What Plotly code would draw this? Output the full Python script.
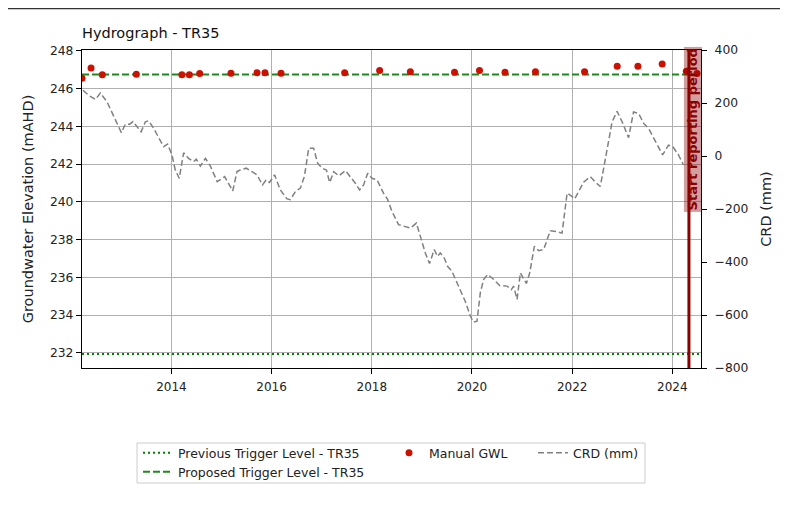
import plotly.graph_objects as go

chart_title = "Hydrograph - TR35"

manual_dates = [
    "2012-03-20", "2012-05-25", "2012-08-15", "2013-04-20", "2014-03-18",
    "2014-05-12", "2014-07-26", "2015-03-11", "2015-09-17", "2015-11-14",
    "2016-03-10", "2017-06-17", "2018-02-27", "2018-10-09", "2019-08-27",
    "2020-02-25", "2020-08-29", "2021-04-08", "2022-04-01", "2022-11-25",
    "2023-04-25", "2023-10-19", "2024-04-12", "2024-06-29",
]
manual_gwl = [
    246.55, 247.10, 246.74, 246.76, 246.74,
    246.74, 246.80, 246.82, 246.85, 246.85,
    246.82, 246.85, 246.96, 246.90, 246.87,
    246.96, 246.87, 246.90, 246.90, 247.19,
    247.19, 247.31, 246.92, 246.80,
]

crd_dates = [
    "2012-03-27", "2012-05-08", "2012-06-26", "2012-08-01", "2012-09-19", "2012-11-06",
    "2013-01-01", "2013-01-30", "2013-03-03", "2013-03-27", "2013-04-26", "2013-05-25",
    "2013-06-25", "2013-07-19", "2013-08-25", "2013-10-12", "2013-11-05", "2013-12-04",
    "2014-01-05", "2014-01-29", "2014-02-27", "2014-03-31", "2014-05-06", "2014-06-12",
    "2014-07-01", "2014-07-31", "2014-09-06", "2014-10-12", "2014-12-01", "2015-01-24",
    "2015-03-24", "2015-04-24", "2015-05-18", "2015-07-01", "2015-08-11", "2015-09-17",
    "2015-10-27", "2015-11-23", "2015-12-17", "2016-01-23", "2016-03-05", "2016-04-23",
    "2016-05-17", "2016-06-23", "2016-07-29", "2016-08-27", "2016-09-28", "2016-11-03",
    "2016-12-02", "2017-01-03", "2017-02-04", "2017-02-28", "2017-03-29", "2017-05-05",
    "2017-06-23", "2017-07-29", "2017-09-03", "2017-10-04", "2017-11-02", "2017-12-02",
    "2018-01-02", "2018-02-08", "2018-03-03", "2018-03-27", "2018-04-25", "2018-05-28",
    "2018-07-15", "2018-09-03", "2018-10-09", "2018-11-22", "2019-01-02", "2019-01-26",
    "2019-02-26", "2019-04-01", "2019-04-25", "2019-05-15", "2019-06-13", "2019-07-07",
    "2019-08-08", "2019-09-26", "2019-11-13", "2019-12-20", "2020-01-13", "2020-02-07",
    "2020-03-02", "2020-03-26", "2020-04-25", "2020-06-08", "2020-07-21", "2020-09-13",
    "2020-10-14", "2020-10-31", "2020-11-25", "2020-12-19", "2021-01-08", "2021-02-01",
    "2021-02-25", "2021-03-31", "2021-05-01", "2021-06-07", "2021-07-25", "2021-09-12",
    "2021-10-19", "2021-11-25", "2022-01-01", "2022-01-19", "2022-02-17", "2022-03-25",
    "2022-05-13", "2022-06-19", "2022-07-25", "2022-08-31", "2022-10-19", "2022-11-24",
    "2022-12-31", "2023-02-16", "2023-03-24", "2023-04-30", "2023-06-06", "2023-07-12",
    "2023-08-30", "2023-10-22", "2023-12-04", "2024-01-05", "2024-02-15", "2024-03-22",
]
crd_mm = [
    248, 229, 213, 238, 204, 148,
    88, 120, 120, 130, 110, 91,
    129, 133, 104, 60, 35, 45,
    4, -53, -84, 12, -9, -21,
    -12, -38, -9, -38, -97, -78,
    -132, -59, -53, -46, -59, -71,
    -109, -90, -100, -71, -128, -162,
    -165, -134, -121, -78, 29, 29,
    -27, -46, -53, -100, -59, -75,
    -55, -78, -103, -128, -109, -65,
    -84, -90, -115, -140, -163, -209,
    -259, -266, -272, -253, -322, -366,
    -406, -353, -379, -366, -385, -416,
    -435, -491, -548, -604, -627, -623,
    -516, -466, -447, -466, -489, -491,
    -504, -491, -541, -441, -460, -481,
    -441, -341, -357, -353, -282, -285,
    -291, -140, -153, -162, -134, -99,
    -78, -99, -115, -15, 129, 169,
    129, 69, 166, 161, 123, 104,
    54, 4, 41, 35, 4, -34,
]

previous_trigger = 231.93
proposed_trigger = 246.75
report_start = "2024-05-01"
report_label = "Start reporting period"
x_range = ["2012-03-20", "2024-07-28"]
gwl_range = [231.19, 248.05]
crd_range = [-800, 400]

FONT = "DejaVu Sans"
GRID = "#b0b0b0"

fig = go.Figure()

fig.add_trace(go.Scatter(
    x=x_range, y=[previous_trigger, previous_trigger], mode="lines",
    name="Previous Trigger Level - TR35",
    line=dict(color="#008000", width=2, dash="2px,3px"),
    legend="legend", yaxis="y",
))
fig.add_trace(go.Scatter(
    x=x_range, y=[proposed_trigger, proposed_trigger], mode="lines",
    name="Proposed Trigger Level - TR35",
    line=dict(color="#1e8a1e", width=2, dash="7px,3px"),
    legend="legend4", yaxis="y",
))
fig.add_trace(go.Scatter(
    x=manual_dates, y=manual_gwl, mode="markers", name="Manual GWL",
    marker=dict(color="#cc1100", size=7), legend="legend2", yaxis="y",
))
fig.add_trace(go.Scatter(
    x=crd_dates, y=crd_mm, mode="lines", name="CRD (mm)",
    line=dict(color="#808080", width=1.5, dash="6px,3px"),
    legend="legend3", yaxis="y2",
))

# The page body adds an 8px offset; plot area in page pixels: 82..701, 50..368
OFF = 8
W, H = 788 - OFF, 531 - OFF
L, R, T, B = 82, 701, 50, 368
def px(xp):
    return (xp - L) / (R - L)
def py(yp):
    return (B - yp) / (B - T)

legend_common = dict(bgcolor="rgba(0,0,0,0)", borderwidth=0,
                     font=dict(family=FONT, size=12.5, color="#222"),
                     xanchor="left", yanchor="top", orientation="v")

fig.update_layout(
    width=W, height=H,
    margin=dict(l=L - OFF, r=788 - R, t=T - OFF, b=531 - B, pad=0),
    paper_bgcolor="white", plot_bgcolor="white",
    font=dict(family=FONT, size=12, color="#222"),
    title=dict(text=chart_title, x=0, xref="paper", xanchor="left",
               y=1 - (33 - OFF) / H, yanchor="middle",
               font=dict(family=FONT, size=14.5, color="#111")),
    xaxis=dict(type="date", range=x_range, dtick="M24", tick0="2014-01-01",
               tickformat="%Y", showgrid=True, gridcolor=GRID, gridwidth=1,
               showline=True, linecolor="black", linewidth=1.3, mirror=True,
               ticks="outside", ticklen=5, tickcolor="black",
               zeroline=False, tickfont=dict(size=12), ticklabelstandoff=2),
    yaxis=dict(range=gwl_range, dtick=2, tick0=232, showgrid=True,
               gridcolor=GRID, gridwidth=1, showline=True, linecolor="black",
               linewidth=1.3, mirror=True, ticks="outside", ticklen=5,
               tickcolor="black", zeroline=False, tickfont=dict(size=12.3),
               title=dict(text="Groundwater Elevation (mAHD)",
                          font=dict(size=14.5), standoff=12)),
    yaxis2=dict(range=crd_range, dtick=200, overlaying="y", side="right",
                showgrid=False, zeroline=False, showline=True,
                linecolor="black", linewidth=1.3, ticks="outside",
                ticklen=5, tickcolor="black", tickfont=dict(size=12.3),
                ticklabelstandoff=5,
                title=dict(text="CRD (mm)", font=dict(size=14.5), standoff=13)),
    legend=dict(x=px(138), y=py(438), **legend_common),
    legend4=dict(x=px(138), y=py(457), **legend_common),
    legend2=dict(x=px(389), y=py(438), **legend_common),
    legend3=dict(x=px(533), y=py(438), **legend_common),
    showlegend=True,
)

fig.add_shape(type="line", xref="x", yref="paper", x0=report_start,
              x1=report_start, y0=0, y1=1,
              line=dict(color="#8b0000", width=3))
fig.add_annotation(x=report_start, xref="x", y=py(212), yref="paper",
                   text="<b>" + report_label + "</b>", textangle=-90,
                   showarrow=False, xanchor="left", yanchor="bottom",
                   xshift=-6, bgcolor="rgba(139,0,0,0.38)", borderpad=1,
                   font=dict(family=FONT, size=13, color="#8b0000"))

# legend frame
fig.add_shape(type="rect", xref="paper", yref="paper",
              x0=px(137), x1=px(645), y0=py(483), y1=py(443),
              line=dict(color="#cccccc", width=1), layer="above")
# figure frame (top edge)
fig.add_shape(type="line", xref="paper", yref="paper",
              x0=px(0), x1=px(800), y0=py(8.6), y1=py(8.6),
              line=dict(color="#333333", width=1.2), layer="above")

fig.write_html("out.html")
